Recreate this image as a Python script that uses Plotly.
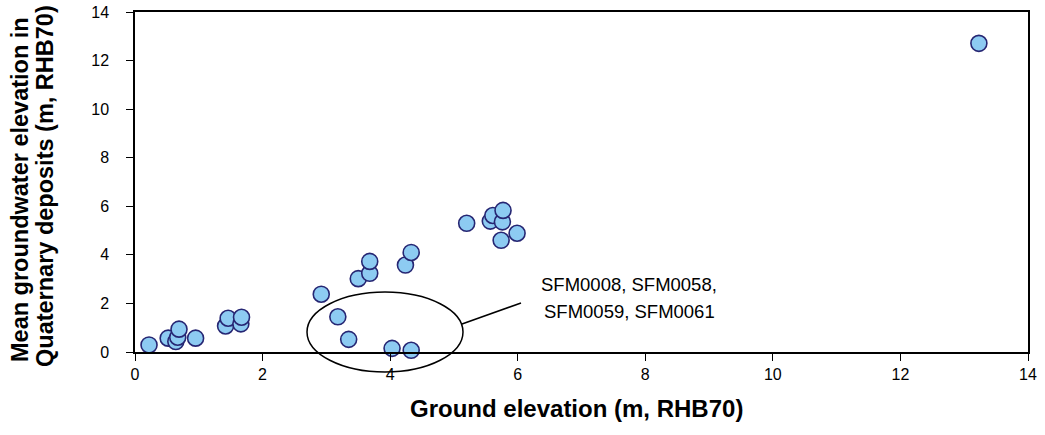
import plotly.graph_objects as go

# Data
ground_elev = [0.22, 0.52, 0.64, 0.67, 0.69, 0.95, 1.42, 1.46, 1.66, 1.67,
               2.92, 3.18, 3.35, 3.50, 3.68, 3.68, 4.03, 4.24, 4.33, 4.33,
               5.20, 5.57, 5.61, 5.74, 5.76, 5.77, 5.99, 13.23]
gw_elev = [0.29, 0.57, 0.43, 0.61, 0.94, 0.57, 1.07, 1.39, 1.16, 1.43,
           2.38, 1.45, 0.52, 3.02, 3.24, 3.73, 0.15, 3.58, 0.07, 4.10,
           5.30, 5.39, 5.62, 4.60, 5.36, 5.83, 4.89, 12.71]
tick_vals = [0, 2, 4, 6, 8, 10, 12, 14]
x_title = "Ground elevation (m, RHB70)"
y_title_lines = ["Mean groundwater elevation in", "Quaternary deposits (m, RHB70)"]
note_lines = ["SFM0008, SFM0058,", "SFM0059, SFM0061"]

FONT = "Liberation Sans, Arial, sans-serif"

# plot area in pixels
L, R, T, B = 135, 1028, 12, 352
W, H = 1045, 435


def px(xp):
    return (xp - L) / (R - L)


def py(yp):
    return (B - yp) / (B - T)


fig = go.Figure()
fig.add_trace(go.Scatter(
    x=ground_elev, y=gw_elev, mode="markers",
    marker=dict(size=16, color="#8DCBF2", line=dict(color="#262673", width=1.6)),
    cliponaxis=False, showlegend=False,
))

axis_common = dict(
    range=[0, 14], tickvals=tick_vals, showgrid=False, zeroline=False,
    showline=True, linecolor="black", linewidth=1.5, mirror=True,
    ticks="outside", ticklen=7, tickcolor="black", tickwidth=1,
    tickfont=dict(family=FONT, size=16, color="black"),
    automargin=False,
)

base = dict(xref="paper", yref="paper", showarrow=False,
            xanchor="center", yanchor="middle")
annotations = [
    dict(base, text=note_lines[0], x=px(629), y=py(284),
         font=dict(family=FONT, size=18.5, color="black")),
    dict(base, text=note_lines[1], x=px(629), y=py(311),
         font=dict(family=FONT, size=18.5, color="black")),
    dict(base, text="<b>" + x_title + "</b>", x=px(576), y=py(408),
         font=dict(family=FONT, size=24, color="black")),
]
for xc, yc, line in zip([20, 45], [190, 186], y_title_lines):
    annotations.append(dict(
        base, text="<b>" + line + "</b>", x=px(xc), y=py(yc), textangle=-90,
        font=dict(family=FONT, size=23.5, color="black")))

fig.update_layout(
    width=W, height=H,
    margin=dict(l=L, r=W - R, t=T, b=H - B),
    paper_bgcolor="white", plot_bgcolor="white",
    xaxis=dict(**axis_common, ticklabelstandoff=0),
    yaxis=dict(**axis_common, ticklabelstandoff=14),
    shapes=[
        dict(type="circle", xref="paper", yref="paper",
             x0=px(307), x1=px(463), y0=py(372), y1=py(292),
             line=dict(color="black", width=1.5)),
        dict(type="line", xref="paper", yref="paper",
             x0=px(462), y0=py(324), x1=px(521), y1=py(303),
             line=dict(color="black", width=1.5)),
    ],
    annotations=annotations,
)

fig.write_html("out.html")
